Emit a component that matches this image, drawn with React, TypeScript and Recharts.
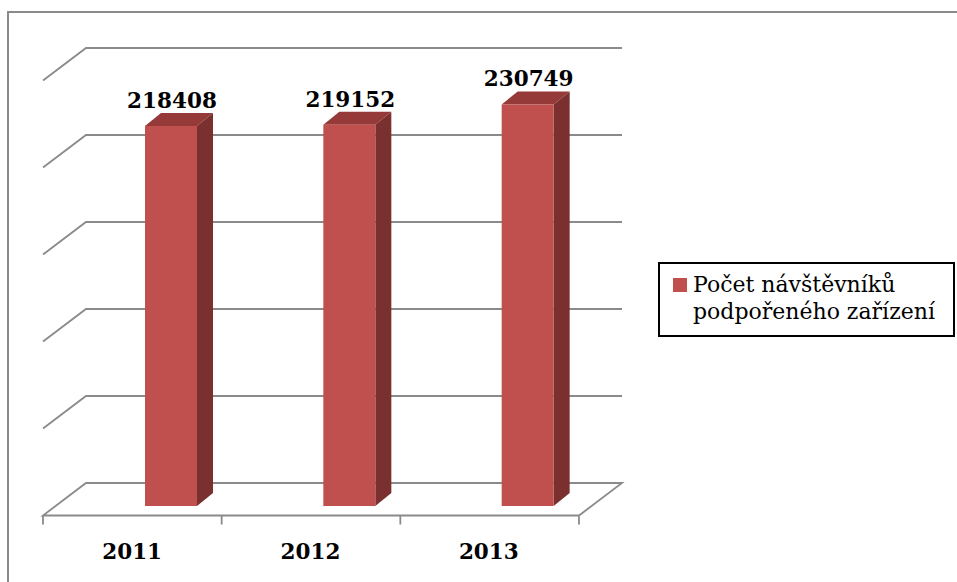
import React from 'react';
import { BarChart, Bar, XAxis, YAxis, CartesianGrid, Legend, LabelList } from 'recharts';

const years = ['2011', '2012', '2013'];
const visitors = [218408, 219152, 230749];
const yTicks = [0, 50000, 100000, 150000, 200000, 250000];
const seriesName = 'Počet návštěvníků podpořeného zařízení';

const data = years.map((year, i) => ({ year, visitors: visitors[i] }));

const W = 957;
const H = 582;
const MARGIN = { top: 71, right: 340, bottom: 36, left: 82 };
const XAXIS_H = 40;
const PLOT_BOTTOM = H - MARGIN.bottom - XAXIS_H;

const GRID = '#8a8a8a';
const FRONT = '#C0504D';
const TOP = '#953a38';
const SIDE = '#7a302e';
const SERIF = '"DejaVu Serif", serif';

// depth offsets of the 3D back wall / floor relative to the bar plane
const BACK_DX = 4;
const BACK_DY = -23;
const FRONT_DX = -39;
const FRONT_DY = 9.5;

const GridLine = (p: any) => {
  const { x1, x2, y1 } = p;
  const L = x1;
  const R = x2;
  const y = y1;
  const isFloor = Math.abs(y - PLOT_BOTTOM) < 0.6;
  if (!isFloor) {
    return (
      <path
        key={p.key ?? `g-${p.index}`}
        d={`M${L + FRONT_DX},${y + FRONT_DY} L${L + BACK_DX},${y + BACK_DY} L${R + BACK_DX + 1},${y + BACK_DY}`}
        stroke={GRID}
        strokeWidth={1.8}
        fill="none"
      />
    );
  }
  const n = years.length;
  const fl = L + FRONT_DX;
  const fr = R + FRONT_DX + 1;
  const ticks = [];
  for (let i = 0; i <= n; i++) {
    const tx = fl + (i * (fr - fl)) / n;
    ticks.push(`M${tx},${y + FRONT_DY} L${tx},${y + FRONT_DY + 9}`);
  }
  return (
    <path
      key={p.key ?? `g-${p.index}`}
      d={`M${L + BACK_DX},${y + BACK_DY} L${R + BACK_DX + 1},${y + BACK_DY} L${fr},${y + FRONT_DY} L${fl},${y + FRONT_DY} Z ${ticks.join(' ')}`}
      stroke={GRID}
      strokeWidth={1.8}
      fill="none"
    />
  );
};

const Box3D = (p: any) => {
  const { x, y, width, height } = p;
  const dx = 16;
  const dy = 13;
  return (
    <g>
      <polygon
        points={`${x},${y} ${x + dx},${y - dy} ${x + width + dx},${y - dy} ${x + width},${y}`}
        fill={TOP}
      />
      <polygon
        points={`${x + width},${y} ${x + width + dx},${y - dy} ${x + width + dx},${y + height - dy} ${x + width},${y + height}`}
        fill={SIDE}
      />
      <rect x={x} y={y} width={width} height={height} fill={FRONT} />
    </g>
  );
};

const ValueLabel = (p: any) => {
  const { x, y, width, value } = p;
  return (
    <text
      x={x + width / 2 + 1}
      y={y - 18}
      textAnchor="middle"
      fontFamily={SERIF}
      fontWeight="bold"
      fontSize={21.5}
      fill="#000"
    >
      {value}
    </text>
  );
};

const YearTick = (p: any) => {
  const { x, y, payload } = p;
  return (
    <text
      x={x + FRONT_DX}
      y={y + 45}
      textAnchor="middle"
      fontFamily={SERIF}
      fontWeight="bold"
      fontSize={21.5}
      fill="#000"
    >
      {payload.value}
    </text>
  );
};

const LegendBox = (p: any) => {
  const items = p.payload || [];
  return (
    <div
      style={{
        boxSizing: 'border-box',
        width: 297,
        height: 75,
        border: '2px solid #000',
        background: '#fff',
        position: 'relative',
        fontFamily: SERIF,
        fontSize: 22,
        lineHeight: '27px',
        color: '#000',
      }}
    >
      {items.map((it: any, i: number) => (
        <div key={i}>
          <div
            style={{
              position: 'absolute',
              left: 13,
              top: 14,
              width: 14,
              height: 14,
              background: it.color,
            }}
          />
          <div style={{ position: 'absolute', left: 33, top: 7, width: 262 }}>{it.value}</div>
        </div>
      ))}
    </div>
  );
};

export default function App() {
  return (
    <div
      style={{
        position: 'fixed',
        left: 0,
        top: 0,
        width: W,
        height: H,
        overflow: 'hidden',
        background: '#fff',
      }}
    >
      <div
        style={{
          position: 'absolute',
          left: 7,
          top: 11,
          width: 1000,
          height: 700,
          border: `2px solid ${GRID}`,
        }}
      />
      <div style={{ position: 'absolute', left: 0, top: 0 }}>
        <BarChart width={W} height={H} data={data} margin={MARGIN}>
          <CartesianGrid vertical={false} horizontal={GridLine} stroke={GRID} />
          <XAxis
            dataKey="year"
            height={XAXIS_H}
            axisLine={false}
            tickLine={false}
            tick={YearTick}
            interval={0}
          />
          <YAxis hide domain={[0, 250000]} ticks={yTicks} />
          <Legend
            layout="vertical"
            align="center"
            verticalAlign="middle"
            content={LegendBox}
            wrapperStyle={{ left: 658, top: 262, width: 297, height: 75 }}
          />
          <Bar
            dataKey="visitors"
            name={seriesName}
            fill={FRONT}
            barSize={52}
            shape={Box3D}
            isAnimationActive={false}
          >
            <LabelList dataKey="visitors" content={ValueLabel} />
          </Bar>
        </BarChart>
      </div>
    </div>
  );
}
